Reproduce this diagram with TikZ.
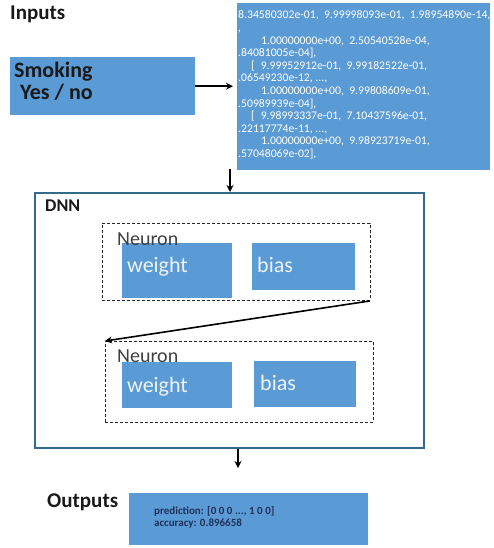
\documentclass[tikz,border=0pt]{standalone}
\usepackage{fontspec}
\setmainfont{Carlito}
\usetikzlibrary{arrows.meta}
\definecolor{boxblue}{HTML}{5B9BD5}
\definecolor{dnnline}{HTML}{346A8C}
\definecolor{outtext}{HTML}{1F2F5A}
\definecolor{labelwhite}{HTML}{EEF4FB}

\begin{document}
\begin{tikzpicture}[x=1pt,y=-1pt,
  bluebox/.style={fill=boxblue, draw=none, inner sep=0pt, anchor=north west},
  title/.style={font=\bfseries\fontsize{21}{24}\selectfont, text=black!90, inner sep=0pt, anchor=base west},
  inlabel/.style={font=\bfseries\fontsize{22}{24}\selectfont, text=black!90, inner sep=0pt, anchor=base west},
  partlabel/.style={font=\fontsize{22}{24}\selectfont, text=labelwhite, inner sep=0pt, anchor=base west},
  neuronlabel/.style={font=\fontsize{20}{22}\selectfont, text=black!75, inner sep=0pt, anchor=base west},
  datatext/.style={font=\fontsize{11.7}{12.7}\selectfont, text=white, inner sep=0pt, anchor=base west},
  outlabel/.style={font=\bfseries\fontsize{11}{12}\selectfont, text=outtext, inner sep=0pt, anchor=base west},
  neuronbox/.style={draw=black!85, densely dashed, line width=0.8pt, inner sep=0pt, anchor=north west},
  arr/.style={-{Stealth[length=7pt,width=7pt]}, line width=1.6pt, black}
]
\useasboundingbox (0,0) rectangle (494,548);
\fill[white] (0,0) rectangle (494,548);

% ---- inputs ----
\node[title] (inputs) at (10,20) {Inputs};
\node[bluebox, minimum width=185pt, minimum height=58pt] (smoking) at (10,57) {};
\node[inlabel] (smk1) at (14,78) {Smoking};
\node[inlabel] (smk2) at (20,100) {Yes / no};

% encoded input values
\node[bluebox, minimum width=253pt, minimum height=167pt] (data) at (237,3) {};
\node[datatext] (d1)  at (238,19.0)  {8.34580302e-01,\ \ 9.99998093e-01,\ \ 1.98954890e-14,};
\node[datatext] (d2)  at (238,31.6)  {,};
\node[datatext] (d3)  at (238,44.2)  {\hspace*{23pt}1.00000000e+00,\ \ 2.50540528e-04,};
\node[datatext] (d4)  at (238,56.8)  {.84081005e-04],};
\node[datatext] (d5)  at (238,69.4)  {\hspace*{13pt}[\hspace{6pt}9.99952912e-01,\ \ 9.99182522e-01,};
\node[datatext] (d6)  at (238,82.0)  {.06549230e-12, ...,};
\node[datatext] (d7)  at (238,94.6)  {\hspace*{23pt}1.00000000e+00,\ \ 9.99808609e-01,};
\node[datatext] (d8)  at (238,107.2) {.50989939e-04],};
\node[datatext] (d9)  at (238,119.8) {\hspace*{13pt}[\hspace{6pt}9.98993337e-01,\ \ 7.10437596e-01,};
\node[datatext] (d10) at (238,132.4) {.22117774e-11, ...,};
\node[datatext] (d11) at (238,145.0) {\hspace*{23pt}1.00000000e+00,\ \ 9.98923719e-01,};
\node[datatext] (d12) at (238,157.6) {.57048069e-02],};

\draw[arr, shorten >=4pt] (smoking.east) -- (data.west |- smoking.east);

% ---- network ----
\node[draw=dnnline, line width=2.4pt, inner sep=0pt, anchor=north west,
      minimum width=389pt, minimum height=255pt] (dnn) at (34,192) {};
\node[title, font=\bfseries\fontsize{18}{20}\selectfont] (dnnlabel) at (45,211) {DNN};

\coordinate (in1) at (230,169);
\draw[arr] (in1) -- (in1 |- dnn.north);

% first neuron
\node[neuronbox, minimum width=268pt, minimum height=77pt] (n1) at (102,223) {};
\node[bluebox, minimum width=110pt, minimum height=55pt] (w1) at (122,243) {};
\node[bluebox, minimum width=103pt, minimum height=47pt] (b1) at (252,243) {};
\node[partlabel] (w1t) at (127,272) {weight};
\node[partlabel] (b1t) at (257,272) {bias};
\node[neuronlabel] (n1t) at (117,245) {Neuron};

% second neuron
\node[neuronbox, minimum width=268pt, minimum height=81pt] (n2) at (105,341) {};
\node[bluebox, minimum width=110pt, minimum height=46pt] (w2) at (122,362) {};
\node[bluebox, minimum width=102pt, minimum height=46pt] (b2) at (254,361) {};
\node[partlabel] (w2t) at (127,392) {weight};
\node[partlabel] (b2t) at (260,390) {bias};
\node[neuronlabel] (n2t) at (117,362) {Neuron};

\draw[arr, shorten <=1pt] (n1.south east) -- (n2.north west);

% ---- outputs ----
\coordinate (out1) at (238,468);
\draw[arr] (out1 |- dnn.south) -- (out1);

\node[title] (outputs) at (47,507) {Outputs};
\node[bluebox, minimum width=239pt, minimum height=52pt] (result) at (129,493) {};
\node[outlabel] (r1) at (154,514) {prediction: [0 0 0 ..., 1 0 0]};
\node[outlabel] (r2) at (154,526) {accuracy: 0.896658};
\end{tikzpicture}
\end{document}
